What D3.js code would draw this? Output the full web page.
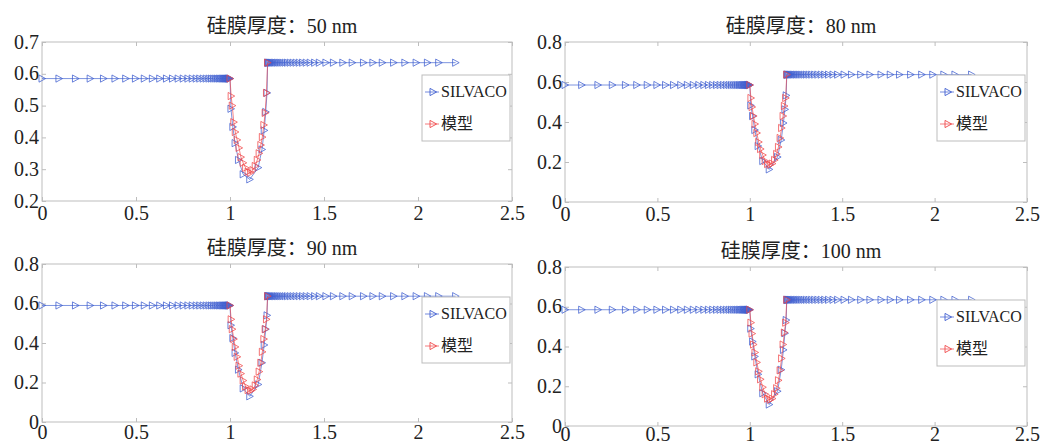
<!DOCTYPE html>
<html>
<head>
<meta charset="utf-8">
<script src="https://cdn.jsdelivr.net/npm/d3@7"></script>
<style>
  body { margin: 0; background: #fff; }
  svg text { font-family: "Liberation Serif", "Times New Roman", "Noto Sans CJK SC", serif !important; fill: #222; }
</style>
</head>
<body>
<div id="chart-area"></div>
<script>
// mesh points along x (same for every thickness)
var xLeft = [0, 0.09, 0.178, 0.256, 0.327, 0.388, 0.445, 0.497, 0.544, 0.587, 0.626, 0.662,
    0.694, 0.724, 0.751, 0.776, 0.799, 0.82, 0.839, 0.857, 0.873, 0.888, 0.901, 0.913, 0.924,
    0.934, 0.943, 0.951, 0.958, 0.965, 0.971, 0.976, 0.981, 0.985, 0.989, 0.992, 0.995, 0.998, 1.0];
var xDip = [1.005, 1.015, 1.027, 1.045, 1.07, 1.105, 1.15, 1.17, 1.182, 1.19, 1.197];
var xRight = [1.2, 1.202, 1.205, 1.208, 1.212, 1.217, 1.222, 1.228, 1.235, 1.243, 1.251, 1.26,
    1.27, 1.281, 1.293, 1.306, 1.32, 1.335, 1.351, 1.368, 1.386, 1.405, 1.426, 1.45, 1.475,
    1.51, 1.55, 1.60, 1.65, 1.71, 1.76, 1.81, 1.87, 1.93, 1.99, 2.05, 2.11, 2.2];
var xModel = [1.0, 1.006, 1.012, 1.02, 1.028, 1.038, 1.048, 1.058, 1.07, 1.083, 1.096, 1.11,
    1.122, 1.134, 1.145, 1.155, 1.164, 1.172, 1.18, 1.187, 1.194, 1.2];

var thickness = ["50 nm", "80 nm", "90 nm", "100 nm"];

// flat levels left / right of the window
var levelLeft = [0.585, 0.585, 0.59, 0.585];
var levelRight = [0.635, 0.637, 0.637, 0.635];

// SILVACO values inside the dip
var silvaco50 = [0.49, 0.433, 0.382, 0.329, 0.284, 0.268, 0.305, 0.362, 0.422, 0.48, 0.54];
var silvaco80 = [0.483, 0.43, 0.36, 0.28, 0.205, 0.163, 0.225, 0.31, 0.395, 0.463, 0.533];
var silvaco90 = [0.49, 0.425, 0.35, 0.265, 0.17, 0.13, 0.19, 0.30, 0.39, 0.47, 0.54];
var silvaco100 = [0.49, 0.425, 0.35, 0.26, 0.165, 0.108, 0.175, 0.283, 0.383, 0.467, 0.533];

// model values
var model50 = [0.585, 0.53, 0.50, 0.448, 0.417, 0.392, 0.367, 0.338, 0.32, 0.304, 0.292, 0.289,
    0.297, 0.31, 0.329, 0.35, 0.376, 0.401, 0.439, 0.477, 0.54, 0.635];
var model80 = [0.585, 0.52, 0.475, 0.43, 0.39, 0.345, 0.30, 0.265, 0.235, 0.205, 0.19, 0.186,
    0.192, 0.21, 0.24, 0.275, 0.32, 0.37, 0.43, 0.48, 0.52, 0.637];
var model90 = [0.59, 0.52, 0.47, 0.42, 0.38, 0.33, 0.285, 0.245, 0.21, 0.18, 0.162, 0.158,
    0.165, 0.185, 0.215, 0.255, 0.30, 0.355, 0.42, 0.47, 0.52, 0.637];
var model100 = [0.585, 0.52, 0.465, 0.41, 0.37, 0.32, 0.275, 0.235, 0.195, 0.16, 0.138, 0.132,
    0.138, 0.16, 0.19, 0.23, 0.28, 0.34, 0.41, 0.47, 0.52, 0.635];

var xTicks = [0, 0.5, 1, 1.5, 2, 2.5];
var yTicksA = [0.2, 0.3, 0.4, 0.5, 0.6, 0.7];
var yTicksB = [0, 0.2, 0.4, 0.6, 0.8];

var legendNames = ["SILVACO", "模型"];

var silvacoSets = [silvaco50, silvaco80, silvaco90, silvaco100];
var modelSets = [model50, model80, model90, model100];
var yTickSets = [yTicksA, yTicksB, yTicksB, yTicksB];

// axes boxes
var boxes = [
    { left: 42, top: 42, right: 512, bottom: 201, pad: 5 },
    { left: 565, top: 42, right: 1027, bottom: 202, pad: 5 },
    { left: 42, top: 264, right: 512, bottom: 422, pad: 3 },
    { left: 565, top: 267, right: 1027, bottom: 426, pad: 1 }
];

var blue = "#3f5fd0", red = "#f0484a", axisGray = "#bdbdbd";

var svg = d3.select("#chart-area")
    .append("svg")
    .attr("width", 1059)
    .attr("height", 447);

var tri = "M-3,-3.6L3.6,0L-3,3.6Z";

for (var i = 0; i < 4; i++) drawPanel(i);

function drawPanel(i) {
    var b = boxes[i];
    var w = b.right - b.left, h = b.bottom - b.top;
    var yt = yTickSets[i];

    var g = svg.append("g")
        .attr("transform", "translate(" + b.left + "," + b.top + ")");

    var x = d3.scaleLinear().domain([0, 2.5]).range([0, w]);
    var y = d3.scaleLinear().domain([yt[0], yt[yt.length - 1]]).range([h, 0]);

    // box
    g.append("rect")
        .attr("width", w).attr("height", h)
        .attr("fill", "none").attr("stroke", axisGray).attr("stroke-width", 1);

    // axes, ticks pointing inward
    var xAxis = g.append("g").attr("transform", "translate(0," + h + ")")
        .call(d3.axisBottom(x).tickValues(xTicks).tickSize(-4).tickPadding(b.pad)
            .tickFormat(function (d) { return d; }));
    var xTop = g.append("g")
        .call(d3.axisTop(x).tickValues(xTicks).tickSize(-4).tickFormat(""));
    var yAxis = g.append("g")
        .call(d3.axisLeft(y).tickValues(yt).tickSize(-4).tickPadding(3)
            .tickFormat(function (d) { return d; }));
    var yRight = g.append("g").attr("transform", "translate(" + w + ",0)")
        .call(d3.axisRight(y).tickValues(yt).tickSize(-4).tickFormat(""));

    [xAxis, xTop, yAxis, yRight].forEach(function (a) {
        a.attr("font-family", null);
        a.select(".domain").remove();
        a.selectAll("line").attr("stroke", axisGray);
        a.selectAll("text").attr("font-size", "20px").attr("fill", "#222");
    });
    xAxis.selectAll("text").attr("dy", "0.7em");
    yAxis.selectAll("text").attr("dy", "0.3em");

    // title
    g.append("text")
        .attr("x", w / 2 + 5)
        .attr("y", -9)
        .attr("text-anchor", "middle")
        .attr("font-size", "20px")
        .text("硅膜厚度：" + thickness[i]);

    // series
    var silvaco = [];
    xLeft.forEach(function (v) { silvaco.push([v, levelLeft[i]]); });
    xDip.forEach(function (v, k) { silvaco.push([v, silvacoSets[i][k]]); });
    xRight.forEach(function (v) { silvaco.push([v, levelRight[i]]); });

    var model = xModel.map(function (v, k) { return [v, modelSets[i][k]]; });

    var line = d3.line()
        .x(function (d) { return x(d[0]); })
        .y(function (d) { return y(d[1]); });

    drawSeries(g, silvaco, line, x, y, blue);
    drawSeries(g, model, line, x, y, red);

    // legend
    var lg = g.append("g")
        .attr("transform", "translate(" + (w - 90) + ",33)");
    lg.append("rect")
        .attr("width", 88).attr("height", 66)
        .attr("fill", "#fff").attr("stroke", axisGray);
    [blue, red].forEach(function (c, k) {
        var ly = 17 + k * 32;
        lg.append("line")
            .attr("x1", 3).attr("x2", 17).attr("y1", ly).attr("y2", ly)
            .attr("stroke", c).attr("stroke-width", 0.9).attr("opacity", 0.8);
        lg.append("path")
            .attr("d", tri)
            .attr("transform", "translate(11," + ly + ")")
            .attr("fill", "none").attr("stroke", c).attr("stroke-width", 0.9);
        lg.append("text")
            .attr("x", 19).attr("y", ly + 5)
            .attr("font-size", "16px")
            .text(legendNames[k]);
    });
}

function drawSeries(g, data, line, x, y, color) {
    g.append("path")
        .datum(data)
        .attr("d", line)
        .attr("fill", "none")
        .attr("stroke", color)
        .attr("stroke-width", 0.9)
        .attr("opacity", 0.75);

    g.selectAll(null)
        .data(data)
        .enter()
        .append("path")
        .attr("d", tri)
        .attr("transform", function (d) { return "translate(" + x(d[0]) + "," + y(d[1]) + ")"; })
        .attr("fill", "none")
        .attr("stroke", color)
        .attr("stroke-width", 0.9)
        .attr("opacity", 0.85);
}
</script>
</body>
</html>
